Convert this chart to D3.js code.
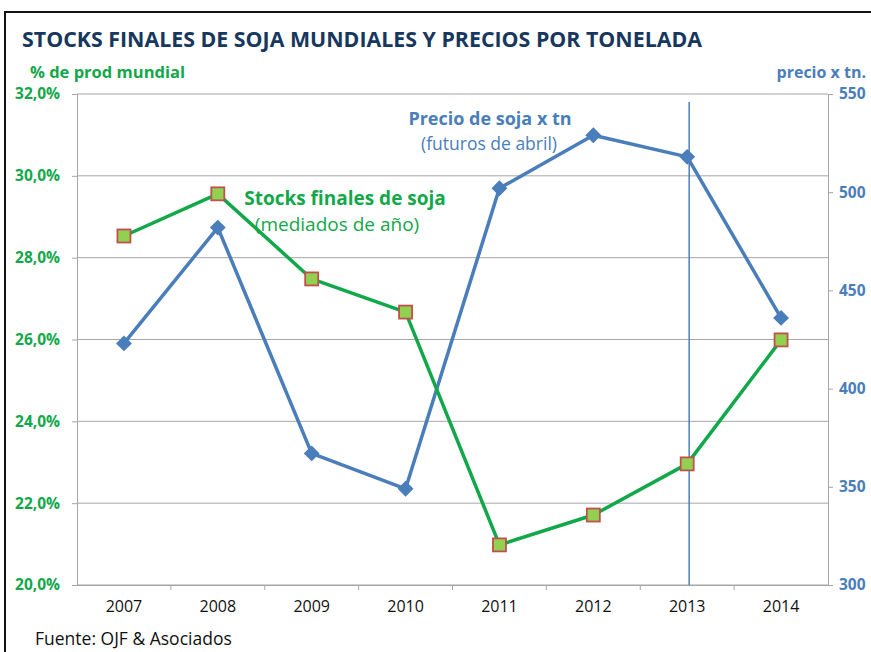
<!DOCTYPE html>
<html>
<head>
<meta charset="utf-8">
<script src="https://cdn.jsdelivr.net/npm/d3@7"></script>
<style>
  html, body { margin: 0; padding: 0; background: #fff; }
  svg { display: block; font-family: "Open Sans", "DejaVu Sans", sans-serif; }
</style>
</head>
<body>
<svg id="chart" width="871" height="652"></svg>
<script>
// soja: stocks finales (% prod mundial) vs precio por tonelada, dos ejes

const years = ["2007", "2008", "2009", "2010", "2011", "2012", "2013", "2014"];
const stocks = [28.53, 29.56, 27.48, 26.67, 20.98, 21.71, 22.96, 25.99];
const precio = [423, 482, 367, 349, 502, 529, 518, 436];
const leftTicks = [20, 22, 24, 26, 28, 30, 32];
const rightTicks = [300, 350, 400, 450, 500, 550];

const GREEN = "#12a84a", BLUE = "#4a7ebb", NAVY = "#17375e", GRID = "#a6a6a6";
const svg = d3.select("#chart");

const x0 = 77, x1 = 828, yTop = 94, yBot = 585;
const x = d3.scaleBand().domain(years).range([x0, x1]);
const yL = d3.scaleLinear().domain([20, 32]).range([yBot, yTop]);
const yR = d3.scaleLinear().domain([300, 550]).range([yBot, yTop]);
const cx = d => x(d) + x.bandwidth() / 2;

// frame
svg.append("rect").attr("x", 5).attr("y", 12).attr("width", 880).attr("height", 660)
  .attr("fill", "none").attr("stroke", "#111").attr("stroke-width", 2);

// title + axis titles
svg.append("text").text("STOCKS FINALES DE SOJA MUNDIALES Y PRECIOS POR TONELADA")
  .attr("x", 22).attr("y", 47).attr("fill", NAVY)
  .attr("textLength", 680).attr("lengthAdjust", "spacingAndGlyphs")
  .style("font", "bold 22px 'Open Sans', sans-serif");
svg.append("text").text("% de prod mundial").attr("x", 30).attr("y", 78)
  .attr("fill", GREEN).attr("textLength", 155).attr("lengthAdjust", "spacingAndGlyphs")
  .style("font", "bold 16px 'Open Sans', sans-serif");
svg.append("text").text("precio x tn.").attr("x", 866).attr("y", 78)
  .attr("text-anchor", "end").attr("fill", BLUE)
  .style("font", "bold 16px 'Open Sans', sans-serif");

// grid
svg.append("g").selectAll("line").data(leftTicks).join("line")
  .attr("x1", x0).attr("x2", x1)
  .attr("y1", d => yL(d)).attr("y2", d => yL(d))
  .attr("stroke", GRID).attr("stroke-width", 1);

// left axis
const gl = svg.append("g").attr("transform", `translate(${x0},0)`)
  .call(d3.axisLeft(yL).tickValues(leftTicks).tickSize(5).tickPadding(12)
    .tickFormat(d => d3.format(".1f")(d).replace(".", ",") + "%"));
gl.select(".domain").attr("stroke", GRID);
gl.selectAll(".tick line").attr("stroke", GRID);
gl.selectAll(".tick text").attr("fill", GREEN)
  .style("font", "bold 15.5px 'Open Sans', sans-serif");

// right axis
const gr = svg.append("g").attr("transform", `translate(${x1},0)`)
  .call(d3.axisRight(yR).tickValues(rightTicks).tickSize(5).tickPadding(6));
gr.select(".domain").attr("stroke", GRID);
gr.selectAll(".tick line").attr("stroke", GRID);
gr.selectAll(".tick text").attr("fill", BLUE)
  .style("font", "bold 15.5px 'Open Sans', sans-serif");

// bottom axis, ticks between categories
const gb = svg.append("g").attr("transform", `translate(0,${yBot})`)
  .call(d3.axisBottom(x).tickSize(0).tickPadding(16));
gb.select(".domain").attr("stroke", GRID);
gb.selectAll(".tick text").attr("fill", "#111")
  .style("font", "16px 'Open Sans', sans-serif");
svg.append("g").selectAll("line").data(years.slice(1)).join("line")
  .attr("x1", d => x(d)).attr("x2", d => x(d))
  .attr("y1", yBot).attr("y2", yBot + 5).attr("stroke", GRID);

// 2013 marker line
svg.append("line").attr("x1", cx("2013") + 2).attr("x2", cx("2013") + 2)
  .attr("y1", 102).attr("y2", yBot).attr("stroke", BLUE).attr("stroke-width", 1.5);

// price series
svg.append("path").datum(precio)
  .attr("d", d3.line().x((d, i) => cx(years[i])).y(d => yR(d)))
  .attr("fill", "none").attr("stroke", BLUE).attr("stroke-width", 3.5)
  .attr("stroke-linejoin", "round");
svg.append("g").selectAll("path").data(precio).join("path")
  .attr("d", d3.symbol(d3.symbolDiamond2, 160))
  .attr("transform", (d, i) => `translate(${cx(years[i])},${yR(d)})`)
  .attr("fill", BLUE);

// stocks series
svg.append("path").datum(stocks)
  .attr("d", d3.line().x((d, i) => cx(years[i])).y(d => yL(d)))
  .attr("fill", "none").attr("stroke", GREEN).attr("stroke-width", 3.5)
  .attr("stroke-linejoin", "round");
svg.append("g").selectAll("rect").data(stocks).join("rect")
  .attr("x", (d, i) => cx(years[i]) - 6.5).attr("y", d => yL(d) - 6.5)
  .attr("width", 13).attr("height", 13)
  .attr("fill", "#92d050").attr("stroke", "#c0504d").attr("stroke-width", 1.8);

// series labels
svg.append("text").text("Precio de soja x tn").attr("x", 490).attr("y", 125)
  .attr("text-anchor", "middle").attr("fill", BLUE)
  .style("font", "bold 18px 'Open Sans', sans-serif");
svg.append("text").text("(futuros de abril)").attr("x", 489).attr("y", 150)
  .attr("text-anchor", "middle").attr("fill", BLUE)
  .style("font", "17.5px 'Open Sans', sans-serif");
svg.append("text").text("Stocks finales de soja").attr("x", 345).attr("y", 205)
  .attr("text-anchor", "middle").attr("fill", GREEN)
  .style("font", "bold 19px 'Open Sans', sans-serif");
svg.append("text").text("(mediados de año)").attr("x", 337).attr("y", 231)
  .attr("text-anchor", "middle").attr("fill", GREEN)
  .style("font", "19px 'Open Sans', sans-serif");

// source
svg.append("text").text("Fuente: OJF & Asociados").attr("x", 35).attr("y", 645)
  .attr("fill", "#111").style("font", "17.5px 'Open Sans', sans-serif");
</script>
</body>
</html>
